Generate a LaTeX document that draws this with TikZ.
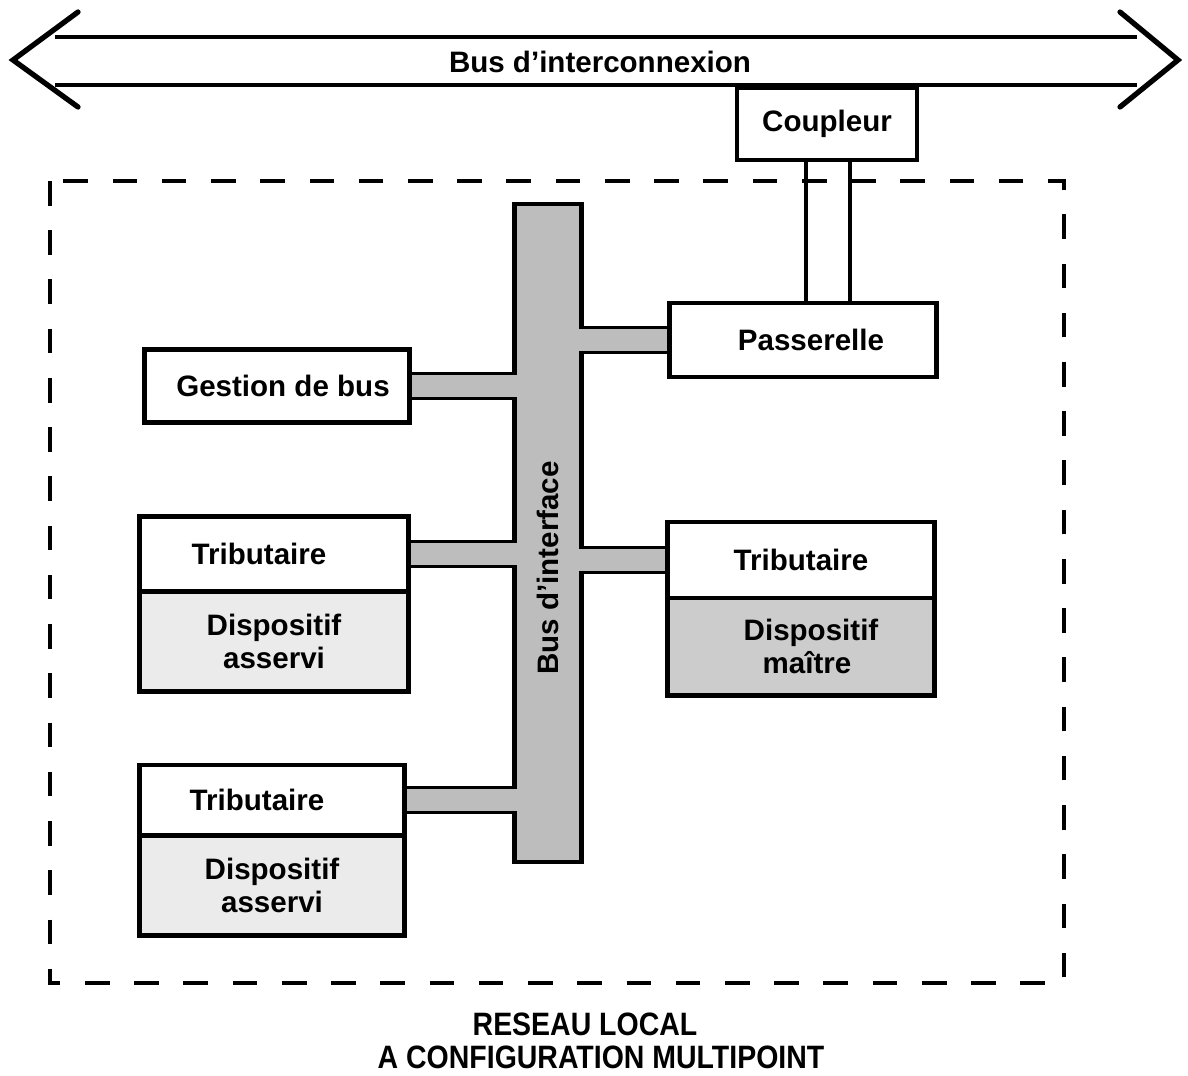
\documentclass[tikz,border=0pt]{standalone}
\usepackage{fontspec}
\setmainfont{Liberation Sans}
\usetikzlibrary{positioning}

\begin{document}
\begin{tikzpicture}[x=0.01cm, y=-0.01cm,
  txt/.style={font=\fontsize{8.4}{9.4}\selectfont\bfseries},
  box/.style={txt, draw, line width=1.4pt, fill=white, outer sep=0pt, inner sep=0pt, align=center},
  slave/.style={box, fill=gray!16},
  master/.style={box, fill=gray!40},
  stub/.style={line width=0.85pt, double=gray!52, double distance=6pt, shorten <=0.7pt, shorten >=-0.6pt},
  link/.style={line width=0.9pt}]
  \useasboundingbox (0,0) rectangle (1188,1075);

  \draw[link] (55,37) -- (1137,37) (55,85) -- (1137,85);
  \draw[line width=1.5pt, line cap=round] (78,12) -- (13,60) -- (78,107) (1120,12) -- (1178,60) -- (1120,107);
  \node[txt] (bic) at (600,62) {Bus d'interconnexion};

  \draw[link, dash pattern=on 7pt off 7pt] (50,181) rectangle (1064,983);

  \node[box, line width=0.9pt, minimum width=1.8cm, minimum height=0.72cm] (coupleur) at (827,124) {Coupleur};
  \node[box, minimum width=2.67cm, minimum height=0.74cm] (passerelle) at (803,340) {\hspace{0.16cm}Passerelle};
  \node[box, minimum width=2.65cm, minimum height=0.73cm] (gestion) at (277,386) {\hspace{0.12cm}Gestion de bus};

  \node[box, minimum width=2.68cm, minimum height=0.75cm] (trib1) at (274,554) {Tributaire\hspace{0.3cm}};
  \node[slave, minimum width=2.68cm, minimum height=1.0cm, below=0pt of trib1] (disp1) {Dispositif\\asservi};
  \node[box, minimum width=2.67cm, minimum height=0.76cm] (trib2) at (801,560) {Tributaire};
  \node[master, minimum width=2.67cm, minimum height=0.97cm, below=0pt of trib2] (disp2) {\hspace{0.2cm}Dispositif\\\hspace{0.12cm}maître};
  \node[box, minimum width=2.65cm, minimum height=0.70cm] (trib3) at (272,800) {Tributaire\hspace{0.3cm}};
  \node[slave, minimum width=2.65cm, minimum height=1.0cm, below=0pt of trib3] (disp3) {Dispositif\\asservi};

  \node[draw, line width=1.2pt, fill=gray!52, minimum width=0.67cm, minimum height=6.57cm, outer sep=0pt, inner sep=0pt] (bus) at (548,533) {};
  \node[txt, rotate=90] (busi) at ([yshift=-0.35cm]bus.center) {Bus d'interface};

  \draw[stub] (gestion.east) -- (gestion.east -| bus.west);
  \draw[stub] (trib1.east) -- (trib1.east -| bus.west);
  \draw[stub] (trib3.east) -- (trib3.east -| bus.west);
  \draw[stub] (passerelle.west) -- (passerelle.west -| bus.east);
  \draw[stub] (trib2.west) -- (trib2.west -| bus.east);

  \draw[link] ([xshift=-0.21cm]coupleur.south) -- ([xshift=-0.21cm]coupleur.south |- passerelle.north);
  \draw[link] ([xshift=0.23cm]coupleur.south) -- ([xshift=0.23cm]coupleur.south |- passerelle.north);

  \node[txt, font=\fontsize{9.2}{10}\selectfont\bfseries] (reseau) at (585,1024) {\scalebox{0.88}[1]{RESEAU LOCAL}};
  \node[txt, font=\fontsize{9.2}{10}\selectfont\bfseries] (multi) at (601,1057) {\scalebox{0.88}[1]{A CONFIGURATION MULTIPOINT}};
\end{tikzpicture}
\end{document}
